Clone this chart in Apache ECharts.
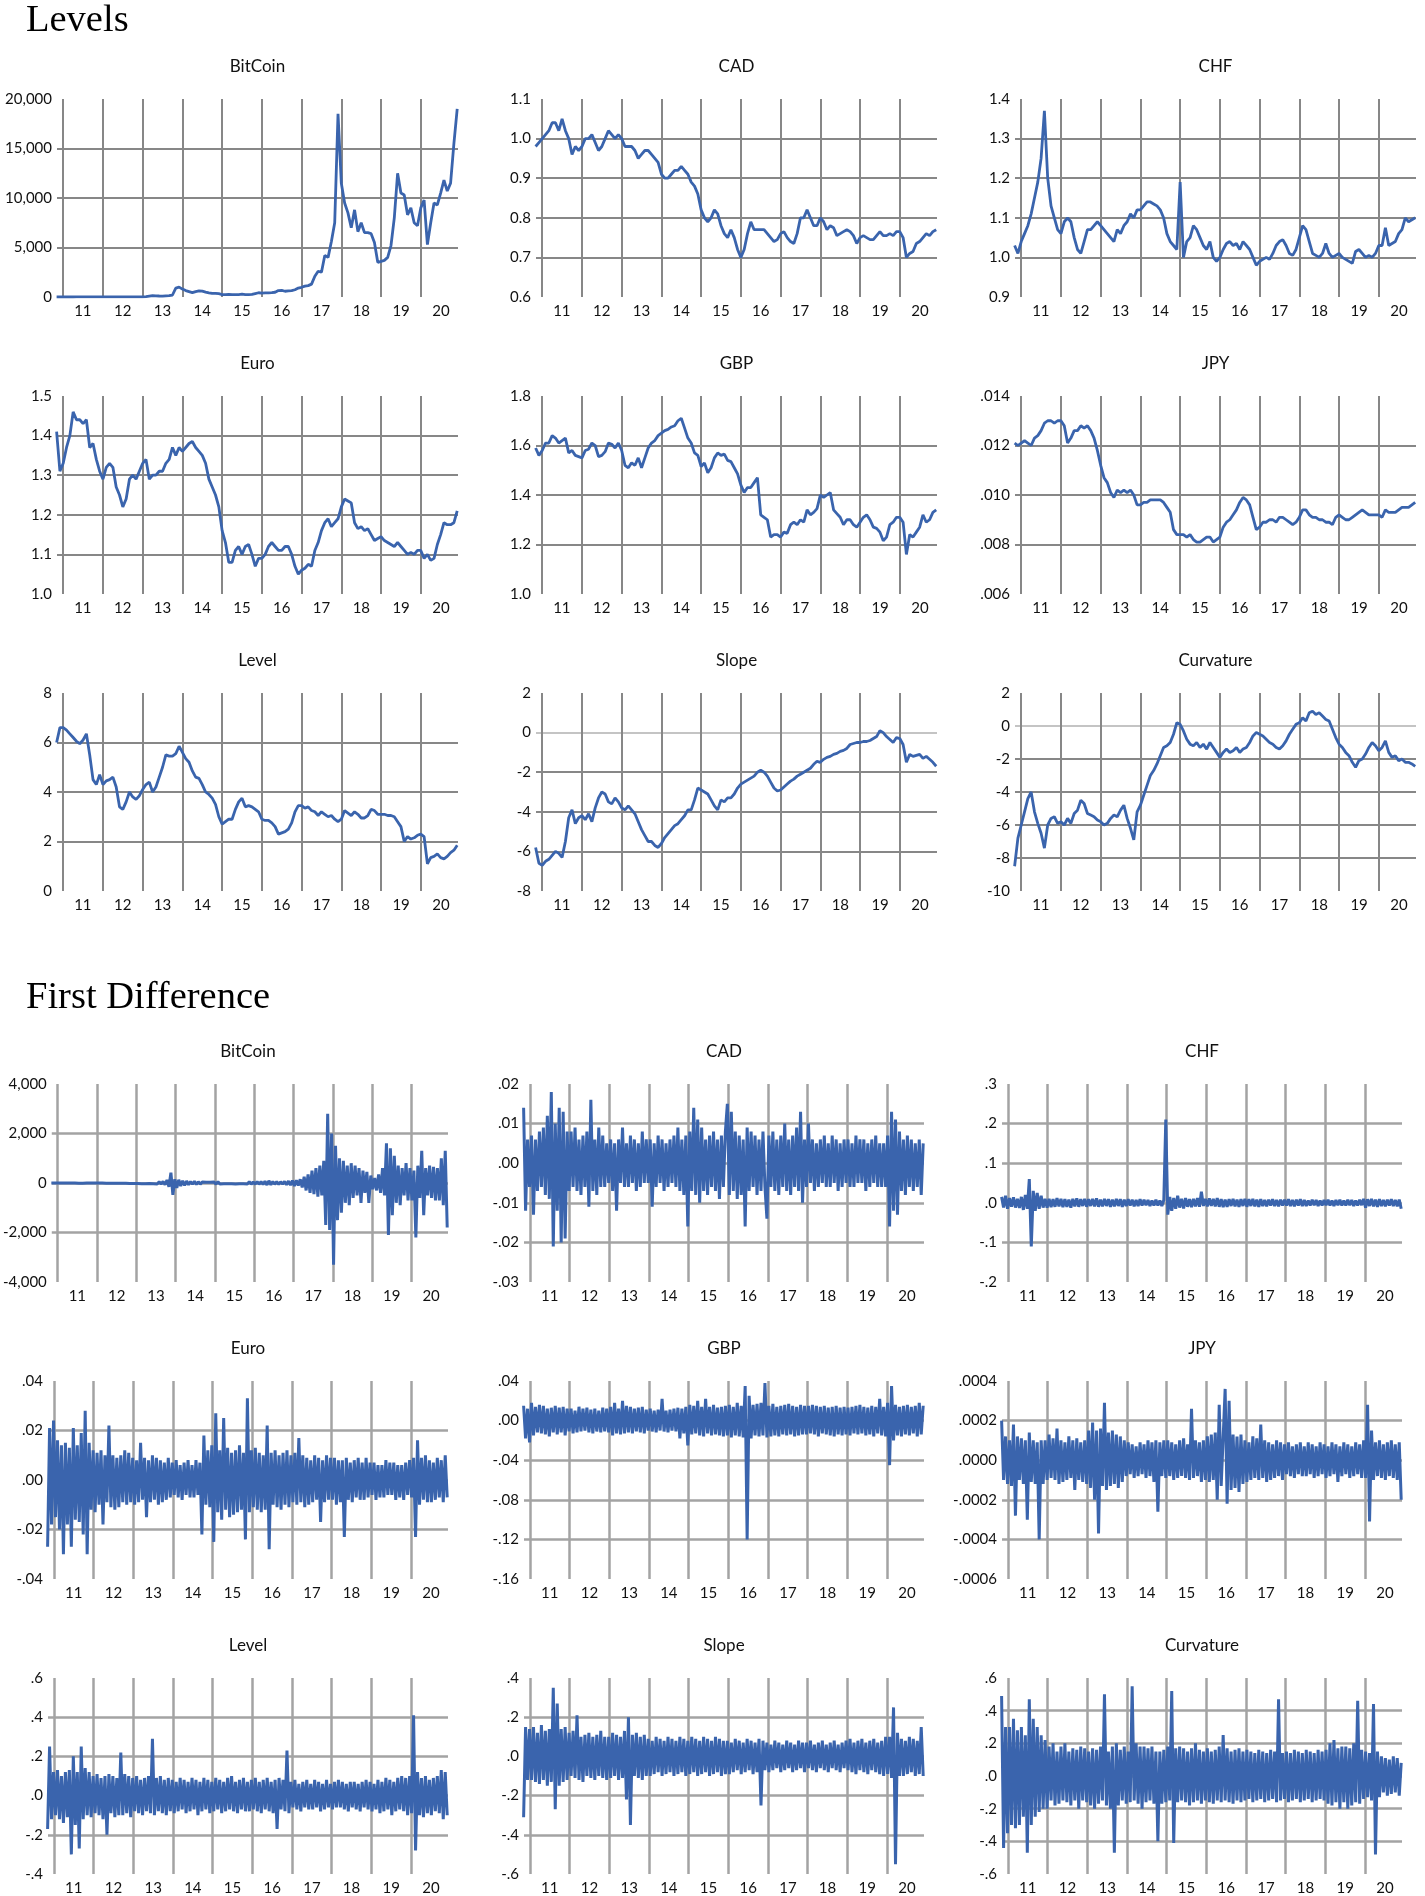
<!DOCTYPE html>
<html><head><meta charset="utf-8">
<script src="https://cdn.jsdelivr.net/npm/echarts@6/dist/echarts.min.js"></script>
<style>html,body{margin:0;padding:0;background:#fff}#c{width:1425px;height:1896px}</style>
</head><body><div id="c"></div>
<script>
// ---- axis ticks / labels ----
const YEAR_LINES = [2011,2012,2013,2014,2015,2016,2017,2018,2019,2020];
const YEAR_MIDS = [2011.5,2012.5,2013.5,2014.5,2015.5,2016.5,2017.5,2018.5,2019.5,2020.5];
const YEAR_LABELS = ['11','12','13','14','15','16','17','18','19','20'];
const DATA_START = 2010.84, DATA_END = 2020.91;

// ---- Levels (monthly, Nov 2010 .. Dec 2020) ----
const lvBitCoin = [0,0,
0,1,1,1,5,15,14,10,5,3,3,4,
5,5,5,5,5,6,8,10,12,11,11,13,
15,30,80,130,120,100,90,120,130,200,900,1000,
800,650,550,450,550,620,600,500,420,360,370,330,
250,240,260,230,240,250,280,230,235,270,350,430,
400,410,415,440,480,650,660,580,610,640,730,900,
980,1100,1150,1300,2100,2600,2500,4200,4000,5600,7500,18500,
11500,9500,8500,7000,8800,6600,7500,6500,6500,6400,5500,3500,
3600,3700,4000,5200,8000,12500,10500,10300,8300,9000,7500,7200,
9000,9800,5300,7500,9500,9300,10500,11800,10700,11500,15500,19000];
const lvCAD = [0.98,0.99,
1.00,1.01,1.02,1.04,1.04,1.02,1.05,1.02,1.00,0.96,0.98,0.97,
0.98,1.00,1.00,1.01,0.99,0.97,0.98,1.00,1.02,1.01,1.00,1.01,
1.00,0.98,0.98,0.98,0.97,0.95,0.96,0.97,0.97,0.96,0.95,0.94,
0.91,0.90,0.90,0.91,0.92,0.92,0.93,0.92,0.91,0.89,0.88,0.86,
0.82,0.80,0.79,0.80,0.82,0.81,0.78,0.76,0.75,0.77,0.75,0.72,
0.70,0.72,0.76,0.79,0.77,0.77,0.77,0.77,0.76,0.75,0.74,0.745,
0.76,0.765,0.75,0.74,0.735,0.76,0.80,0.80,0.82,0.80,0.78,0.78,
0.80,0.79,0.77,0.78,0.775,0.755,0.76,0.765,0.77,0.765,0.755,0.735,
0.75,0.755,0.75,0.745,0.745,0.755,0.765,0.755,0.755,0.76,0.755,0.765,
0.765,0.75,0.70,0.71,0.715,0.735,0.74,0.75,0.76,0.755,0.765,0.77];
const lvCHF = [1.03,1.01,
1.04,1.06,1.08,1.11,1.15,1.19,1.25,1.37,1.20,1.13,1.10,1.07,
1.06,1.09,1.10,1.09,1.05,1.02,1.01,1.04,1.07,1.07,1.08,1.09,
1.08,1.07,1.06,1.05,1.04,1.07,1.06,1.08,1.09,1.11,1.10,1.12,
1.12,1.13,1.14,1.14,1.135,1.13,1.12,1.10,1.06,1.04,1.03,1.02,
1.19,1.00,1.04,1.05,1.08,1.07,1.05,1.03,1.02,1.04,1.00,0.99,
1.00,1.02,1.035,1.04,1.03,1.035,1.02,1.04,1.03,1.02,1.00,0.98,
0.99,0.995,1.00,0.995,1.01,1.03,1.04,1.045,1.03,1.01,1.005,1.02,
1.05,1.08,1.07,1.04,1.01,1.005,1.00,1.01,1.035,1.01,1.00,1.005,
1.01,1.00,0.995,0.99,0.985,1.015,1.02,1.01,1.00,1.005,1.00,1.01,
1.03,1.03,1.075,1.03,1.035,1.04,1.06,1.07,1.10,1.09,1.095,1.10];
const lvEuro = [1.41,1.31,
1.33,1.37,1.40,1.46,1.44,1.44,1.43,1.44,1.37,1.38,1.34,1.31,
1.29,1.32,1.33,1.32,1.27,1.25,1.22,1.24,1.29,1.30,1.29,1.31,
1.33,1.34,1.29,1.30,1.30,1.31,1.31,1.33,1.34,1.37,1.35,1.37,
1.36,1.37,1.38,1.385,1.37,1.36,1.35,1.33,1.29,1.27,1.25,1.22,
1.16,1.13,1.08,1.08,1.11,1.12,1.10,1.12,1.125,1.10,1.07,1.09,
1.09,1.10,1.12,1.13,1.12,1.11,1.11,1.12,1.12,1.10,1.07,1.05,
1.06,1.065,1.075,1.07,1.11,1.13,1.16,1.18,1.19,1.17,1.18,1.19,
1.22,1.24,1.235,1.23,1.18,1.165,1.17,1.16,1.165,1.15,1.135,1.14,
1.145,1.135,1.13,1.125,1.12,1.13,1.12,1.11,1.10,1.105,1.10,1.11,
1.11,1.09,1.10,1.085,1.09,1.125,1.15,1.18,1.175,1.175,1.18,1.21];
const lvGBP = [1.59,1.56,
1.58,1.61,1.61,1.64,1.63,1.61,1.62,1.63,1.57,1.58,1.56,1.555,
1.55,1.58,1.585,1.61,1.60,1.555,1.56,1.575,1.61,1.605,1.59,1.61,
1.58,1.52,1.51,1.53,1.52,1.55,1.51,1.55,1.59,1.61,1.62,1.64,
1.65,1.66,1.665,1.675,1.68,1.70,1.71,1.67,1.63,1.61,1.57,1.56,
1.515,1.53,1.49,1.51,1.55,1.57,1.56,1.565,1.54,1.535,1.51,1.485,
1.44,1.41,1.43,1.43,1.45,1.47,1.32,1.31,1.30,1.23,1.24,1.24,
1.23,1.25,1.245,1.28,1.29,1.28,1.30,1.29,1.34,1.32,1.33,1.345,
1.40,1.39,1.40,1.41,1.34,1.325,1.31,1.28,1.30,1.30,1.28,1.27,
1.29,1.31,1.32,1.30,1.27,1.265,1.25,1.215,1.23,1.28,1.29,1.31,
1.31,1.29,1.16,1.24,1.23,1.25,1.27,1.32,1.29,1.30,1.33,1.34];
const lvJPY = [0.0121,0.0120,
0.0121,0.0122,0.0121,0.0120,0.0123,0.0124,0.0126,0.0129,0.0130,0.0130,0.0129,0.0130,
0.0130,0.0128,0.0121,0.0123,0.0126,0.0126,0.0128,0.0127,0.0128,0.0126,0.0123,0.0118,
0.0112,0.0107,0.0105,0.0101,0.0099,0.0102,0.0101,0.0102,0.0101,0.0102,0.0100,0.0096,
0.0096,0.0097,0.0097,0.0098,0.0098,0.0098,0.0098,0.0097,0.0095,0.0093,0.0086,0.0084,
0.0084,0.0084,0.0083,0.0084,0.0082,0.0081,0.0081,0.0082,0.0083,0.0083,0.0081,0.0082,
0.0083,0.0087,0.0089,0.0090,0.0092,0.0094,0.0097,0.0099,0.0098,0.0096,0.0091,0.0086,
0.0087,0.0089,0.0089,0.0090,0.0090,0.0089,0.0091,0.0091,0.0090,0.0089,0.0088,0.0089,
0.0091,0.0094,0.0094,0.0092,0.0091,0.0091,0.0090,0.0090,0.0089,0.0089,0.0088,0.0091,
0.0092,0.0091,0.0090,0.0090,0.0091,0.0092,0.0093,0.0094,0.0093,0.0092,0.0092,0.0092,
0.0092,0.0091,0.0094,0.0093,0.0093,0.0093,0.0094,0.0095,0.0095,0.0095,0.0096,0.0097];
const lvLevel = [6.0,6.6,
6.6,6.5,6.35,6.2,6.05,5.95,6.1,6.35,5.5,4.5,4.3,4.7,
4.3,4.45,4.5,4.6,4.2,3.4,3.3,3.6,4.0,3.8,3.7,3.85,
4.1,4.3,4.4,4.0,4.2,4.6,5.0,5.5,5.45,5.45,5.55,5.85,
5.6,5.35,5.2,4.85,4.6,4.55,4.3,4.0,3.9,3.75,3.5,3.0,
2.7,2.8,2.9,2.9,3.3,3.6,3.75,3.4,3.45,3.4,3.3,3.2,
2.9,2.85,2.85,2.75,2.6,2.3,2.35,2.4,2.5,2.75,3.2,3.45,
3.45,3.35,3.4,3.25,3.2,3.05,3.2,3.1,3.0,3.05,2.9,2.8,
2.9,3.25,3.15,3.05,3.2,3.1,2.95,2.95,3.05,3.3,3.25,3.1,
3.1,3.1,3.05,3.05,3.0,2.8,2.6,2.0,2.2,2.1,2.15,2.25,
2.3,2.2,1.1,1.35,1.4,1.5,1.35,1.3,1.4,1.55,1.65,1.85];
const lvSlope = [-5.8,-6.6,
-6.7,-6.5,-6.4,-6.2,-6.0,-6.1,-6.3,-5.5,-4.3,-3.9,-4.6,-4.3,
-4.2,-4.4,-4.1,-4.5,-3.8,-3.3,-3.0,-3.1,-3.5,-3.6,-3.3,-3.5,
-3.8,-3.9,-3.7,-3.9,-4.1,-4.5,-4.9,-5.2,-5.5,-5.5,-5.7,-5.8,
-5.6,-5.3,-5.1,-4.9,-4.7,-4.6,-4.4,-4.2,-3.9,-3.9,-3.4,-2.8,
-2.9,-3.0,-3.1,-3.4,-3.7,-3.9,-3.4,-3.5,-3.3,-3.3,-3.1,-2.8,
-2.6,-2.5,-2.4,-2.3,-2.2,-2.0,-1.9,-2.0,-2.2,-2.5,-2.8,-2.95,
-2.9,-2.75,-2.6,-2.45,-2.35,-2.2,-2.1,-2.0,-1.9,-1.8,-1.6,-1.45,
-1.5,-1.35,-1.25,-1.2,-1.1,-1.05,-0.95,-0.9,-0.8,-0.6,-0.55,-0.5,
-0.5,-0.45,-0.45,-0.4,-0.3,-0.2,0.1,0.0,-0.2,-0.35,-0.5,-0.25,
-0.3,-0.6,-1.5,-1.1,-1.2,-1.15,-1.1,-1.3,-1.2,-1.35,-1.5,-1.7];
const lvCurvature = [-8.5,-6.8,
-6.0,-5.2,-4.4,-4.0,-5.2,-5.9,-6.5,-7.4,-6.0,-5.6,-5.5,-5.9,
-5.8,-6.0,-5.6,-5.9,-5.3,-5.1,-4.5,-4.7,-5.3,-5.4,-5.5,-5.7,
-5.8,-6.0,-5.9,-5.6,-5.4,-5.5,-5.1,-4.8,-5.6,-6.2,-6.9,-5.2,
-4.8,-4.2,-3.6,-3.0,-2.7,-2.3,-1.8,-1.3,-1.2,-1.0,-0.5,0.2,
0.1,-0.3,-0.8,-1.1,-1.2,-1.0,-1.3,-1.1,-1.4,-1.0,-1.3,-1.6,
-1.9,-1.6,-1.4,-1.6,-1.5,-1.3,-1.6,-1.4,-1.3,-1.0,-0.6,-0.4,
-0.5,-0.6,-0.8,-1.0,-1.1,-1.3,-1.4,-1.2,-0.9,-0.5,-0.2,0.1,
0.2,0.5,0.3,0.8,0.9,0.7,0.8,0.6,0.4,0.3,-0.2,-0.7,
-1.1,-1.3,-1.6,-1.8,-2.2,-2.5,-2.1,-2.0,-1.7,-1.3,-1.0,-1.2,
-1.5,-1.3,-0.9,-1.6,-1.9,-1.8,-2.1,-2.0,-2.2,-2.2,-2.3,-2.45];

// ---- First differences (about 20 samples per year) ----
const dfBitCoin = [2,-3,4,
3,-2,4,-3,5,-4,3,-5,6,-4,8,-6,5,-7,4,-5,3,-4,5,-3,
4,-5,6,-5,7,-6,8,-7,9,-8,12,-10,15,-12,14,-11,20,-18,25,-22,
20,-25,30,-28,40,-35,30,-25,35,-30,40,-45,50,-40,60,-70,120,-150,420,-480,
150,-200,130,-120,90,-100,80,-70,60,-50,70,-60,50,-45,40,-35,30,-40,35,-30,
40,-45,50,-40,35,-30,30,-35,40,-30,45,-40,35,-30,40,-35,45,-40,50,-45,
40,-50,60,-50,55,-60,70,-80,90,-70,60,-50,55,-60,50,-45,60,-70,80,-90,
100,-120,110,-100,150,-180,250,-300,350,-400,500,-450,600,-550,700,-500,900,-1700,2800,-1900,
2000,-3300,1500,-1500,1000,-1200,900,-800,700,-900,800,-600,700,-500,600,-800,500,-400,450,-800,
300,-250,200,-300,350,-400,600,-500,1600,-2100,1400,-1300,1100,-800,700,-900,600,-500,800,-700,
600,-700,500,-2200,700,-600,1300,-1300,600,-500,700,-600,650,-700,600,-700,1000,-900,1300,-1800];
const dfCAD = [0.014,-0.012,0.006,
-0.006,0.007,-0.013,0.006,-0.007,0.008,-0.006,0.009,-0.008,0.012,-0.009,0.018,-0.021,0.010,-0.012,0.014,-0.020,0.013,-0.019,0.008,
-0.007,0.008,-0.006,0.009,-0.007,0.006,-0.008,0.007,-0.006,0.008,-0.011,0.016,-0.007,0.006,-0.008,0.009,-0.006,0.007,-0.006,0.005,
-0.005,0.006,-0.007,0.005,-0.012,0.006,-0.005,0.009,-0.006,0.005,-0.006,0.007,-0.005,0.006,-0.007,0.005,-0.006,0.008,-0.005,0.006,
-0.005,0.006,-0.011,0.005,-0.006,0.007,-0.005,0.006,-0.007,0.005,-0.006,0.006,-0.005,0.007,-0.006,0.009,-0.007,0.006,-0.008,0.007,
-0.016,0.008,-0.007,0.014,-0.008,0.011,-0.010,0.009,-0.007,0.006,-0.008,0.007,-0.006,0.008,-0.007,0.006,-0.009,0.007,-0.006,0.008,
0.015,-0.008,0.013,-0.007,0.008,-0.009,0.007,-0.008,0.006,-0.016,0.009,-0.007,0.008,-0.006,0.007,-0.008,0.006,-0.007,0.008,-0.006,
-0.014,0.007,-0.006,0.008,-0.007,0.006,-0.008,0.007,-0.006,0.010,-0.007,0.006,-0.008,0.007,-0.006,0.009,-0.007,0.013,-0.010,0.006,
-0.006,0.010,-0.005,0.006,-0.007,0.005,-0.006,0.006,-0.005,0.007,-0.006,0.005,-0.006,0.007,-0.005,0.006,-0.007,0.005,-0.006,0.006,
-0.005,0.006,-0.006,0.005,-0.006,0.007,-0.005,0.006,-0.005,0.006,-0.007,0.005,-0.006,0.006,-0.005,0.007,-0.006,0.005,-0.006,0.005,
-0.006,0.007,-0.016,0.013,-0.012,0.011,-0.013,0.008,-0.007,0.006,-0.008,0.007,-0.006,0.006,-0.007,0.005,-0.006,0.006,-0.008,0.005];
const dfCHF = [0.015,-0.012,0.018,
-0.015,0.012,-0.010,0.014,-0.012,0.010,-0.013,0.015,-0.018,0.020,-0.015,0.060,-0.110,0.030,-0.020,0.025,-0.015,0.018,-0.012,0.010,
-0.012,0.010,-0.011,0.009,-0.010,0.012,-0.009,0.010,-0.011,0.009,-0.010,0.008,-0.012,0.010,-0.009,0.011,-0.010,0.009,-0.008,0.010,
-0.010,0.009,-0.008,0.010,-0.009,0.011,-0.010,0.008,-0.009,0.010,-0.008,0.009,-0.010,0.008,-0.009,0.010,-0.008,0.009,-0.010,0.008,
-0.008,0.009,-0.007,0.008,-0.009,0.007,-0.008,0.009,-0.007,0.008,-0.006,0.007,-0.008,0.006,-0.007,0.008,-0.007,0.006,-0.008,0.007,
0.210,-0.030,0.015,-0.020,0.012,-0.015,0.018,-0.012,0.010,-0.014,0.012,-0.010,0.009,-0.011,0.010,-0.009,0.012,-0.010,0.028,-0.008,
0.010,-0.009,0.011,-0.008,0.010,-0.009,0.012,-0.010,0.009,-0.011,0.008,-0.010,0.009,-0.008,0.010,-0.009,0.008,-0.010,0.009,-0.008,
0.010,-0.010,0.009,-0.008,0.010,-0.009,0.008,-0.010,0.009,-0.008,0.007,-0.009,0.008,-0.007,0.009,-0.008,0.007,-0.009,0.008,-0.007,
0.008,-0.007,0.009,-0.008,0.007,-0.009,0.008,-0.007,0.009,-0.008,0.007,-0.008,0.006,-0.007,0.008,-0.006,0.007,-0.008,0.006,-0.007,
0.007,-0.006,0.008,-0.007,0.006,-0.008,0.007,-0.006,0.008,-0.007,0.006,-0.007,0.008,-0.006,0.007,-0.008,0.006,-0.007,0.008,-0.006,
0.010,-0.012,0.009,-0.008,0.010,-0.009,0.008,-0.010,0.009,-0.008,0.007,-0.009,0.008,-0.007,0.009,-0.008,0.007,-0.009,0.008,-0.015];
const dfEuro = [-0.027,0.021,-0.018,
0.024,-0.015,0.016,-0.020,0.014,-0.030,0.015,-0.018,0.013,-0.027,0.021,-0.016,0.014,-0.017,0.019,-0.022,0.028,-0.030,0.015,-0.012,
0.012,-0.013,0.011,-0.010,0.012,-0.018,0.010,-0.009,0.022,-0.011,0.010,-0.012,0.009,-0.011,0.010,-0.009,0.012,-0.010,0.011,-0.009,
0.009,-0.010,0.008,-0.009,0.015,-0.008,0.009,-0.015,0.008,-0.009,0.010,-0.008,0.009,-0.010,0.008,-0.009,0.007,-0.008,0.009,-0.007,
0.007,-0.006,0.008,-0.007,0.006,-0.008,0.007,-0.006,0.008,-0.007,0.006,-0.007,0.008,-0.006,0.007,-0.022,0.018,-0.010,0.012,-0.011,
0.014,-0.025,0.027,-0.013,0.012,-0.016,0.025,-0.012,0.013,-0.015,0.011,-0.014,0.012,-0.013,0.014,-0.012,0.011,-0.024,0.033,-0.013,
0.012,-0.011,0.013,-0.012,0.011,-0.013,0.010,-0.012,0.022,-0.028,0.011,-0.010,0.012,-0.011,0.010,-0.012,0.011,-0.010,0.012,-0.011,
0.010,-0.009,0.011,-0.010,0.017,-0.009,0.010,-0.011,0.009,-0.010,0.008,-0.009,0.010,-0.008,0.009,-0.017,0.008,-0.009,0.010,-0.008,
0.009,-0.008,0.009,-0.010,0.008,-0.009,0.008,-0.023,0.009,-0.008,0.007,-0.009,0.008,-0.007,0.009,-0.008,0.007,-0.008,0.009,-0.007,
0.007,-0.006,0.007,-0.008,0.006,-0.007,0.006,-0.007,0.008,-0.006,0.007,-0.006,0.007,-0.008,0.006,-0.007,0.006,-0.008,0.007,-0.006,
0.008,-0.007,0.009,-0.023,0.016,-0.010,0.009,-0.008,0.010,-0.009,0.008,-0.009,0.007,-0.008,0.009,-0.007,0.008,-0.009,0.010,-0.007];
const dfGBP = [0.015,-0.018,0.012,
-0.022,0.018,-0.015,0.014,-0.012,0.016,-0.013,0.015,-0.014,0.012,-0.016,0.013,-0.012,0.015,-0.014,0.013,-0.012,0.014,-0.015,0.012,
-0.011,0.012,-0.013,0.010,-0.012,0.014,-0.011,0.012,-0.010,0.013,-0.012,0.011,-0.013,0.012,-0.011,0.010,-0.012,0.013,-0.011,0.012,
-0.012,0.014,-0.015,0.018,-0.013,0.012,-0.014,0.020,-0.013,0.015,-0.012,0.014,-0.013,0.012,-0.011,0.013,-0.012,0.014,-0.013,0.011,
-0.010,0.012,-0.011,0.010,-0.012,0.011,-0.010,0.022,-0.011,0.010,-0.012,0.011,-0.010,0.012,-0.011,0.013,-0.018,0.012,-0.013,0.014,
-0.025,0.016,-0.014,0.015,-0.013,0.020,-0.015,0.014,-0.016,0.022,-0.013,0.014,-0.015,0.016,-0.014,0.013,-0.015,0.014,-0.016,0.015,
-0.015,0.016,-0.017,0.014,-0.015,0.018,-0.016,0.015,-0.017,0.035,-0.120,0.025,-0.018,0.016,-0.015,0.017,-0.016,0.018,-0.015,0.038,
-0.017,0.015,-0.016,0.017,-0.015,0.014,-0.016,0.015,-0.014,0.016,-0.015,0.017,-0.014,0.015,-0.016,0.014,-0.015,0.016,-0.014,0.015,
-0.014,0.015,-0.013,0.016,-0.014,0.015,-0.016,0.014,-0.013,0.015,-0.014,0.013,-0.015,0.014,-0.016,0.015,-0.014,0.013,-0.015,0.014,
-0.014,0.013,-0.015,0.014,-0.013,0.015,-0.014,0.016,-0.013,0.014,-0.015,0.013,-0.014,0.015,-0.016,0.014,-0.013,0.022,-0.015,0.014,
-0.016,0.018,-0.045,0.035,-0.020,0.016,-0.015,0.014,-0.016,0.015,-0.014,0.016,-0.015,0.014,-0.013,0.015,-0.016,0.018,-0.014,0.015];
const dfJPY = [0.0002,-0.0001,0.00012,
-0.00012,0.0001,-0.00013,0.00018,-0.00028,0.00012,-0.0001,0.00011,-0.00012,0.0001,-0.0003,0.00014,-0.00011,0.0001,-0.00012,0.00009,-0.0004,0.0001,-0.00012,0.0001,
-0.0001,0.00013,-0.00009,0.00011,-0.0001,0.00016,-0.00012,0.0001,-0.00011,0.00009,-0.0001,0.00012,-0.00009,0.0001,-0.00015,0.00011,-0.0001,0.00009,-0.00011,0.0001,
-0.00012,0.00015,-0.00014,0.00019,-0.0002,0.00015,-0.00037,0.00016,-0.00013,0.00029,-0.00015,0.00014,-0.00013,0.00015,-0.00012,0.00013,-0.00014,0.00012,-0.00011,0.0001,
-0.00008,0.00009,-0.00007,0.00008,-0.00009,0.00007,-0.00008,0.00009,-0.00007,0.00008,-0.00009,0.0001,-0.00008,0.00009,-0.00011,0.0001,-0.00026,0.00009,-0.00008,0.0001,
-0.00009,0.0001,-0.00008,0.00009,-0.0001,0.00008,-0.00009,0.0001,-0.00008,0.00011,-0.00009,0.00008,-0.0001,0.00026,-0.00009,0.0001,-0.00008,0.00009,-0.00011,0.0001,
-0.0001,0.00012,-0.00011,0.00013,-0.0001,0.00014,-0.0002,0.00028,-0.00013,-0.00012,0.00036,-0.00022,0.0003,-0.00015,0.00013,-0.00014,0.00012,-0.00016,0.00013,-0.00012,
0.0001,-0.00011,0.00009,-0.0001,0.00012,-0.00009,0.00011,-0.0001,0.00018,-0.00009,0.0001,-0.00011,0.00009,-0.0001,0.00008,-0.00009,0.0001,-0.00008,0.00009,-0.0001,
0.00008,-0.00007,0.00009,-0.00008,0.00007,-0.00009,0.00008,-0.00007,0.00009,-0.00008,0.00007,-0.00008,0.00009,-0.00007,0.00008,-0.00009,0.00007,-0.00008,0.00009,-0.00007,
0.00008,-0.00009,0.00007,-0.00008,0.00009,-0.00007,0.00008,-0.00011,0.00007,-0.00008,0.00009,-0.00007,0.00008,-0.00009,0.00007,-0.00008,0.00009,-0.00007,0.00008,-0.00009,
0.0001,-0.00009,0.00028,-0.00031,0.00015,-0.0001,0.00009,-0.00008,0.0001,-0.00009,0.00008,-0.0001,0.00009,-0.00008,0.0001,-0.00009,0.00008,-0.0001,0.00009,-0.0002];
const dfLevel = [-0.17,0.25,-0.12,
0.12,-0.1,0.13,-0.12,0.1,-0.14,0.12,-0.11,0.13,-0.3,0.2,-0.15,0.12,-0.27,0.25,-0.12,0.14,-0.1,0.12,-0.11,
0.1,-0.09,0.11,-0.1,0.09,-0.12,0.1,-0.2,0.11,-0.09,0.1,-0.11,0.09,-0.1,0.22,-0.1,0.11,-0.09,0.1,-0.11,
0.09,-0.08,0.1,-0.09,0.08,-0.1,0.09,-0.08,0.1,-0.09,0.29,-0.1,0.09,-0.08,0.1,-0.09,0.08,-0.1,0.09,-0.08,
0.08,-0.09,0.07,-0.08,0.09,-0.07,0.08,-0.09,0.07,-0.08,0.09,-0.07,0.08,-0.1,0.07,-0.08,0.09,-0.07,0.08,-0.09,
0.07,-0.08,0.09,-0.07,0.08,-0.09,0.07,-0.08,0.09,-0.07,0.1,-0.08,0.07,-0.09,0.08,-0.07,0.09,-0.08,0.07,-0.08,
0.08,-0.07,0.09,-0.08,0.07,-0.09,0.08,-0.07,0.09,-0.08,0.07,-0.09,0.08,-0.17,0.09,-0.07,0.08,-0.08,0.23,-0.09,
0.07,-0.06,0.08,-0.07,0.06,-0.08,0.07,-0.06,0.08,-0.07,0.06,-0.07,0.08,-0.06,0.07,-0.08,0.06,-0.07,0.08,-0.06,
0.06,-0.07,0.07,-0.06,0.08,-0.06,0.07,-0.07,0.06,-0.08,0.07,-0.06,0.07,-0.07,0.06,-0.08,0.07,-0.06,0.08,-0.07,
0.07,-0.08,0.06,-0.07,0.08,-0.09,0.07,-0.08,0.09,-0.07,0.08,-0.1,0.07,-0.08,0.09,-0.07,0.1,-0.08,0.09,-0.1,
0.1,-0.09,0.41,-0.28,0.12,-0.1,0.09,-0.11,0.1,-0.09,0.08,-0.1,0.09,-0.08,0.1,-0.09,0.13,-0.12,0.12,-0.1];
const dfSlope = [-0.31,0.15,-0.12,
0.14,-0.12,0.15,-0.13,0.12,-0.14,0.16,-0.12,0.13,-0.15,0.14,-0.13,0.35,-0.27,0.27,-0.15,0.14,-0.13,0.15,-0.12,
0.12,-0.1,0.13,-0.11,0.21,-0.12,0.1,-0.13,0.11,-0.1,0.12,-0.11,0.1,-0.12,0.11,-0.1,0.13,-0.11,0.1,-0.12,
0.1,-0.11,0.12,-0.1,0.11,-0.12,0.1,-0.11,0.13,-0.22,0.2,-0.35,0.11,-0.1,0.12,-0.11,0.1,-0.12,0.11,-0.1,
0.09,-0.1,0.08,-0.09,0.1,-0.08,0.09,-0.1,0.08,-0.09,0.1,-0.08,0.09,-0.1,0.08,-0.09,0.1,-0.08,0.09,-0.1,
0.08,-0.09,0.1,-0.08,0.09,-0.1,0.08,-0.09,0.1,-0.08,0.09,-0.1,0.08,-0.09,0.1,-0.08,0.09,-0.1,0.08,-0.09,
0.08,-0.09,0.07,-0.08,0.09,-0.07,0.08,-0.09,0.07,-0.08,0.09,-0.07,0.08,-0.09,0.07,-0.08,0.09,-0.25,0.08,-0.07,
0.07,-0.08,0.06,-0.07,0.08,-0.06,0.07,-0.08,0.06,-0.07,0.08,-0.06,0.07,-0.08,0.06,-0.07,0.08,-0.06,0.07,-0.08,
0.07,-0.06,0.08,-0.07,0.06,-0.08,0.07,-0.06,0.08,-0.07,0.06,-0.08,0.07,-0.06,0.08,-0.07,0.06,-0.08,0.07,-0.06,
0.08,-0.07,0.09,-0.08,0.07,-0.09,0.08,-0.07,0.09,-0.08,0.07,-0.09,0.08,-0.07,0.09,-0.08,0.07,-0.09,0.08,-0.1,
0.1,-0.09,0.1,-0.11,0.25,-0.55,0.12,-0.1,0.09,-0.1,0.08,-0.09,0.1,-0.08,0.09,-0.1,0.08,-0.09,0.15,-0.1];
const dfCurvature = [0.49,-0.44,0.3,
-0.35,0.3,-0.3,0.35,-0.32,0.28,-0.3,0.3,-0.25,0.25,-0.47,0.47,-0.3,0.35,-0.25,0.3,-0.22,0.25,-0.2,0.22,
-0.2,0.18,-0.15,0.2,-0.18,0.15,-0.17,0.18,-0.15,0.2,-0.16,0.15,-0.18,0.17,-0.15,0.16,-0.2,0.18,-0.15,0.17,
-0.16,0.15,-0.18,0.17,-0.2,0.16,-0.17,0.18,-0.15,0.5,-0.18,0.15,-0.2,0.18,-0.47,0.2,-0.18,0.16,-0.15,0.18,
-0.17,0.15,-0.16,0.55,-0.15,0.2,-0.17,0.18,-0.2,0.18,-0.16,0.17,-0.15,0.18,-0.17,0.15,-0.4,0.15,-0.17,0.16,
-0.16,0.18,-0.15,0.52,-0.41,0.17,-0.16,0.18,-0.15,0.17,-0.16,0.15,-0.18,0.17,-0.16,0.2,-0.15,0.16,-0.17,0.15,
-0.15,0.17,-0.16,0.15,-0.17,0.16,-0.15,0.18,-0.16,0.25,-0.15,0.17,-0.16,0.15,-0.17,0.16,-0.15,0.17,-0.16,0.15,
-0.15,0.16,-0.14,0.15,-0.16,0.14,-0.15,0.16,-0.14,0.15,-0.16,0.14,-0.15,0.16,-0.14,0.15,-0.16,0.47,-0.15,0.14,
-0.14,0.15,-0.16,0.14,-0.15,0.16,-0.14,0.15,-0.16,0.14,-0.15,0.16,-0.14,0.15,-0.16,0.14,-0.15,0.16,-0.14,0.15,
-0.15,0.16,-0.17,0.2,-0.18,0.22,-0.16,0.17,-0.2,0.18,-0.16,0.18,-0.2,0.17,-0.18,0.2,-0.16,0.46,-0.17,0.16,
-0.14,0.15,-0.13,0.14,-0.15,0.44,-0.48,0.15,-0.13,0.12,-0.1,0.11,-0.12,0.1,-0.11,0.12,-0.1,0.11,-0.12,0.08];

// ---- formatting helpers ----
const fComma = v => Math.round(v).toLocaleString('en-US');
const fFix = d => v => v.toFixed(d);
const fDot = d => v => { if (Math.abs(v) < 1e-12) v = 0; return v.toFixed(d).replace(/^(-?)0\./, '$1.'); };
const fInt = v => String(Math.round(v));

const BLUE = '#3a64ad';
const FONT = 'Lato, "Open Sans", sans-serif';

const panels = [
  {t:'BitCoin', d:lvBitCoin, min:0, max:20000, iv:5000, f:fComma, c:0, r:0, s:0},
  {t:'CAD', d:lvCAD, min:0.6, max:1.1, iv:0.1, f:fFix(1), c:1, r:0, s:0},
  {t:'CHF', d:lvCHF, min:0.9, max:1.4, iv:0.1, f:fFix(1), c:2, r:0, s:0},
  {t:'Euro', d:lvEuro, min:1.0, max:1.5, iv:0.1, f:fFix(1), c:0, r:1, s:0},
  {t:'GBP', d:lvGBP, min:1.0, max:1.8, iv:0.2, f:fFix(1), c:1, r:1, s:0},
  {t:'JPY', d:lvJPY, min:0.006, max:0.014, iv:0.002, f:fDot(3), c:2, r:1, s:0},
  {t:'Level', d:lvLevel, min:0, max:8, iv:2, f:fInt, c:0, r:2, s:0},
  {t:'Slope', d:lvSlope, min:-8, max:2, iv:2, f:fInt, c:1, r:2, s:0, zero:['#878787','#878787','#878787','#c4c4c4']},
  {t:'Curvature', d:lvCurvature, min:-10, max:2, iv:2, f:fInt, c:2, r:2, s:0, zero:['#878787','#878787','#878787','#878787','#c4c4c4']},
  {t:'BitCoin', d:dfBitCoin, min:-4000, max:4000, iv:2000, f:fComma, c:0, r:0, s:1},
  {t:'CAD', d:dfCAD, min:-0.03, max:0.02, iv:0.01, f:fDot(2), c:1, r:0, s:1},
  {t:'CHF', d:dfCHF, min:-0.2, max:0.3, iv:0.1, f:fDot(1), c:2, r:0, s:1},
  {t:'Euro', d:dfEuro, min:-0.04, max:0.04, iv:0.02, f:fDot(2), c:0, r:1, s:1},
  {t:'GBP', d:dfGBP, min:-0.16, max:0.04, iv:0.04, f:fDot(2), c:1, r:1, s:1},
  {t:'JPY', d:dfJPY, min:-0.0006, max:0.0004, iv:0.0002, f:fDot(4), c:2, r:1, s:1},
  {t:'Level', d:dfLevel, min:-0.4, max:0.6, iv:0.2, f:fDot(1), c:0, r:2, s:1},
  {t:'Slope', d:dfSlope, min:-0.6, max:0.4, iv:0.2, f:fDot(1), c:1, r:2, s:1},
  {t:'Curvature', d:dfCurvature, min:-0.6, max:0.6, iv:0.2, f:fDot(1), c:2, r:2, s:1}
];

const LEFTS = [[57, 536, 1015], [48, 524, 1002]];
const WIDTHS = [401, 400];
const TOPS = [[99, 396, 693], [1084, 1381, 1678]];
const PH = 198;

const toXY = arr => arr.map((v, i) => [DATA_START + i * (DATA_END - DATA_START) / (arr.length - 1), v]);

const HEAD = {fontFamily: '"Liberation Serif", serif', fontSize: 38.5, fontWeight: 'normal', color: '#000'};
const option = {
  animation: false,
  backgroundColor: '#ffffff',
  title: [
    {text: 'Levels', left: 26, top: 1, padding: 0, textStyle: HEAD},
    {text: 'First Difference', left: 26, top: 978, padding: 0, textStyle: HEAD}
  ],
  grid: [], xAxis: [], yAxis: [], series: []
};

panels.forEach((p, k) => {
  const left = LEFTS[p.s][p.c], top = TOPS[p.s][p.r], w = WIDTHS[p.s];
  const gc = p.s ? '#a3a3a3' : '#878787';
  const gw = p.s ? 2.5 : 2;
  option.grid.push({left: left, top: top, width: w, height: PH});
  option.title.push({text: p.t, left: left + w / 2, top: top - 41, textAlign: 'center', padding: 0,
    textStyle: {fontFamily: FONT, fontSize: 17, fontWeight: 'normal', color: '#111'}});
  option.xAxis.push({
    type: 'value', gridIndex: k, min: 2010.85, max: 2020.93,
    axisLine: {show: false},
    axisTick: {show: false, customValues: YEAR_LINES},
    axisLabel: {customValues: YEAR_MIDS, formatter: v => YEAR_LABELS[Math.round(v - 2011.5)],
      fontFamily: FONT, fontSize: 15, color: '#111', margin: 7},
    splitLine: {show: true, lineStyle: {color: gc, width: gw}}
  });
  option.yAxis.push({
    type: 'value', gridIndex: k, min: p.min, max: p.max, interval: p.iv,
    axisLine: {show: false}, axisTick: {show: false},
    axisLabel: {formatter: p.f, fontFamily: FONT, fontSize: 15, color: '#111', margin: 5},
    splitLine: {show: true, showMinLine: false, showMaxLine: false,
      lineStyle: {color: p.zero ? p.zero : gc, width: gw}}
  });
  option.series.push({
    type: 'line', xAxisIndex: k, yAxisIndex: k, data: toXY(p.d),
    showSymbol: false, symbol: 'none', silent: true, z: 3,
    lineStyle: {color: BLUE, width: p.s ? 3 : 2.8}
  });
});

const chart = echarts.init(document.getElementById('c'), null, {renderer: 'canvas'});
chart.setOption(option);
</script></body></html>
